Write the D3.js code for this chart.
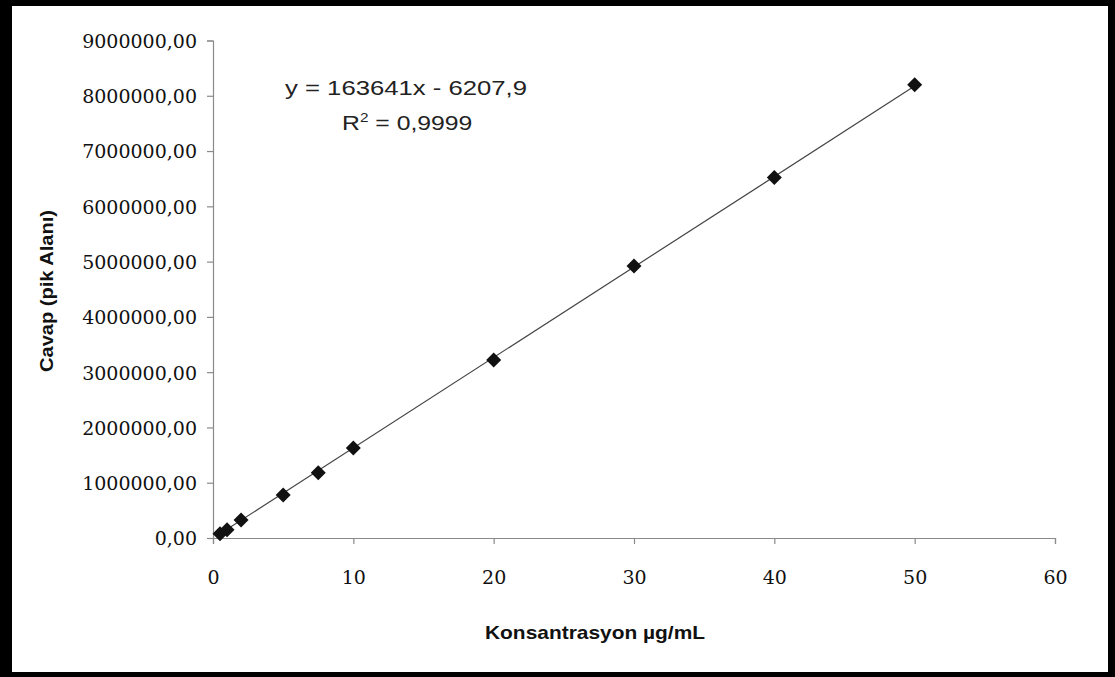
<!DOCTYPE html>
<html>
<head>
<meta charset="utf-8">
<script src="https://cdn.jsdelivr.net/npm/d3@7"></script>
<style>
  html, body { margin: 0; padding: 0; background: #fff; }
  svg { display: block; }
</style>
</head>
<body>
<svg id="chart" width="1115" height="677"></svg>
<script>
// ---- data ----
const concentrations = [0.5, 1, 2, 5, 7.5, 10, 20, 30, 40, 50];
const responses = [75000, 150000, 325000, 780000, 1180000, 1630000, 3220000, 4920000, 6520000, 8200000];
const xTicks = [0, 10, 20, 30, 40, 50, 60];
const yTicks = [0, 1000000, 2000000, 3000000, 4000000, 5000000, 6000000, 7000000, 8000000, 9000000];
const trendSlope = 163641;
const trendIntercept = -6207.9;
const equationText = "y = 163641x - 6207,9";
const r2Text = ["R", "2", " = 0,9999"];
const xTitle = "Konsantrasyon µg/mL";
const yTitle = "Cavap (pik Alanı)";

// ---- layout ----
const svg = d3.select("#chart");
const W = 1115, H = 677;
svg.append("rect").attr("x", 0).attr("y", 0).attr("width", W).attr("height", H).attr("fill", "#000");
svg.append("rect").attr("x", 12).attr("y", 6).attr("width", 1096).attr("height", 666).attr("fill", "#fff");

const x = d3.scaleLinear().domain([0, 60]).range([213, 1055]);
const y = d3.scaleLinear().domain([0, 9000000]).range([538, 40.5]);

const fmt = v => d3.format(".2f")(v).replace(".", ",");

// y axis
const yAxis = svg.append("g").attr("transform", `translate(${x(0)},0)`)
  .call(d3.axisLeft(y).tickValues(yTicks).tickSize(6).tickPadding(10).tickFormat(fmt));
// x axis
const xAxis = svg.append("g").attr("transform", `translate(0,${y(0)})`)
  .call(d3.axisBottom(x).tickValues(xTicks).tickSize(6).tickPadding(40).tickFormat(d3.format("d")));

[yAxis, xAxis].forEach(g => {
  g.select(".domain").attr("stroke", "#8a8a8a").attr("stroke-width", 1.2);
  g.selectAll(".tick line").attr("stroke", "#8a8a8a").attr("stroke-width", 1.2);
  g.selectAll(".tick text")
    .attr("font-family", "'DejaVu Serif', serif")
    .attr("font-size", 19)
    .attr("fill", "#111");
});
yAxis.selectAll(".tick text").attr("dy", "0.36em");
xAxis.selectAll(".tick text").attr("dy", "0");

// trendline
const xMin = d3.min(concentrations), xMax = d3.max(concentrations);
svg.append("line")
  .attr("x1", x(xMin)).attr("y1", y(trendSlope * xMin + trendIntercept))
  .attr("x2", x(xMax)).attr("y2", y(trendSlope * xMax + trendIntercept))
  .attr("stroke", "#444").attr("stroke-width", 1.2);

// markers (diamonds)
const r = 7.5;
const diamond = `M0,${-r}L${r},0L0,${r}L${-r},0Z`;
svg.append("g").selectAll("path")
  .data(concentrations.map((c, i) => [c, responses[i]]))
  .join("path")
  .attr("d", diamond)
  .attr("transform", d => `translate(${x(d[0])},${y(d[1])})`)
  .attr("fill", "#111");

// equation
svg.append("text")
  .attr("x", 285).attr("y", 95)
  .attr("font-family", "'Liberation Sans', Arial, sans-serif")
  .attr("font-size", 21)
  .attr("fill", "#222")
  .attr("textLength", 242).attr("lengthAdjust", "spacingAndGlyphs")
  .text(equationText);

const r2 = svg.append("g").attr("transform", "translate(342,130) scale(1.18,1)")
  .append("text")
  .attr("x", 0).attr("y", 0)
  .attr("font-family", "'Liberation Sans', Arial, sans-serif")
  .attr("font-size", 21)
  .attr("fill", "#222");
r2.append("tspan").text(r2Text[0]);
r2.append("tspan").attr("font-size", 13).attr("dy", -8).text(r2Text[1]);
r2.append("tspan").attr("dy", 8).text(r2Text[2]);

// axis titles
svg.append("text")
  .attr("x", 595).attr("y", 639)
  .attr("text-anchor", "middle")
  .attr("font-family", "'Liberation Sans', Arial, sans-serif")
  .attr("font-weight", "bold")
  .attr("font-size", 19)
  .attr("fill", "#111")
  .attr("textLength", 220).attr("lengthAdjust", "spacingAndGlyphs")
  .text(xTitle);

svg.append("text")
  .attr("transform", "translate(53,291) rotate(-90)")
  .attr("text-anchor", "middle")
  .attr("font-family", "'Liberation Sans', Arial, sans-serif")
  .attr("font-weight", "bold")
  .attr("font-size", 19)
  .attr("fill", "#111")
  .attr("textLength", 162).attr("lengthAdjust", "spacingAndGlyphs")
  .text(yTitle);
</script>
</body>
</html>
